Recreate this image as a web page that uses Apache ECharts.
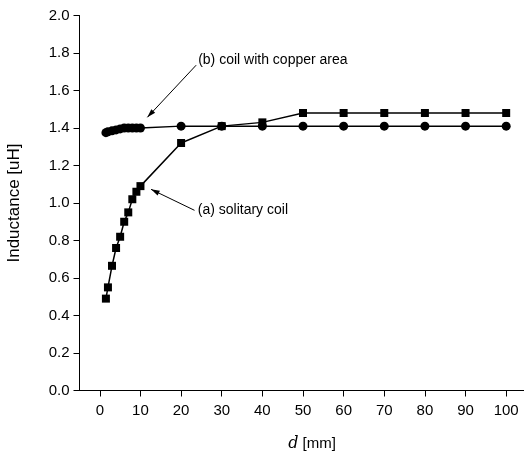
<!DOCTYPE html>
<html>
<head>
<meta charset="utf-8">
<script src="https://cdn.jsdelivr.net/npm/echarts@6/dist/echarts.min.js"></script>
<style>
  html, body { margin: 0; padding: 0; background: #fff; }
  #chart { width: 524px; height: 457px; }
</style>
</head>
<body>
<div id="chart"></div>
<script>
// distance d [mm]
const distances = [1.5, 2, 3, 4, 5, 6, 7, 8, 9, 10, 20, 30, 40, 50, 60, 70, 80, 90, 100]
// (a) solitary coil
const solitaryCoil = [0.49, 0.55, 0.665, 0.76, 0.82, 0.90, 0.95, 1.02, 1.06, 1.09, 1.32, 1.41, 1.43, 1.48, 1.48, 1.48, 1.48, 1.48, 1.48]
// (b) coil with copper area
const copperCoil = [1.375, 1.38, 1.385, 1.39, 1.395, 1.40, 1.40, 1.40, 1.40, 1.40, 1.41, 1.41, 1.41, 1.41, 1.41, 1.41, 1.41, 1.41, 1.41]
const xTicks = [0, 10, 20, 30, 40, 50, 60, 70, 80, 90, 100]

// 注释: 文字, 文字位置, 箭头尾, 箭头头
const notes = [
  { text: '(b) coil with copper area', at: [24.2, 1.76], from: [23.7, 1.735], to: [11.7, 1.457] },
  { text: '(a) solitary coil', at: [24.1, 0.961], from: [23.3, 0.961], to: [12.6, 1.073] }
]

const font = 'Liberation Sans, Arial, sans-serif'
const chart = echarts.init(document.getElementById('chart'))

chart.setOption({
  animation: false,
  grid: { left: 79.5, top: 15.5, width: 447, height: 375, outerBoundsMode: 'none', containLabel: false },
  xAxis: {
    type: 'value',
    min: -5,
    max: 105,
    name: '{i|d} [mm]',
    nameLocation: 'middle',
    nameGap: 45,
    nameTextStyle: {
      color: '#000', fontFamily: font, fontSize: 15, padding: [0, 0, 0, 18],
      rich: { i: { fontStyle: 'italic', fontFamily: 'DejaVu Serif', fontSize: 16, color: '#000' } }
    },
    axisLine: { onZero: false, lineStyle: { color: '#000', width: 1 } },
    axisTick: { show: true, length: 6, customValues: xTicks, lineStyle: { color: '#000' } },
    axisLabel: { customValues: xTicks, color: '#000', fontFamily: font, fontSize: 15, margin: 13 },
    splitLine: { show: false }
  },
  yAxis: {
    type: 'value',
    min: 0,
    max: 2,
    interval: 0.2,
    name: 'Inductance [uH]',
    nameLocation: 'middle',
    nameGap: 57,
    nameTextStyle: { color: '#000', fontFamily: font, fontSize: 17 },
    axisLine: { show: true, onZero: false, lineStyle: { color: '#000', width: 1 } },
    axisTick: { show: true, length: 6, lineStyle: { color: '#000' } },
    axisLabel: {
      color: '#000', fontFamily: font, fontSize: 15, margin: 10,
      formatter: v => v.toFixed(1)
    },
    splitLine: { show: false }
  },
  series: [
    {
      name: '(a) solitary coil',
      type: 'line',
      data: distances.map((d, i) => [d, solitaryCoil[i]]),
      symbol: 'rect',
      symbolSize: 8,
      itemStyle: { color: '#000' },
      lineStyle: { color: '#000', width: 1.5 },
      z: 3
    },
    {
      name: '(b) coil with copper area',
      type: 'line',
      data: distances.map((d, i) => [d, copperCoil[i]]),
      symbol: 'circle',
      symbolSize: 9,
      itemStyle: { color: '#000' },
      lineStyle: { color: '#000', width: 1.5 },
      z: 4
    }
  ]
})

// 箭头与注释文字
const graphics = []
notes.forEach(n => {
  const p = chart.convertToPixel({ gridIndex: 0 }, n.at)
  const a = chart.convertToPixel({ gridIndex: 0 }, n.from)
  const b = chart.convertToPixel({ gridIndex: 0 }, n.to)
  const ang = Math.atan2(b[1] - a[1], b[0] - a[0])
  const len = 9
  const spread = 0.3
  graphics.push({
    type: 'line',
    shape: { x1: a[0], y1: a[1], x2: b[0], y2: b[1] },
    style: { stroke: '#000', lineWidth: 1 }
  })
  graphics.push({
    type: 'polygon',
    shape: {
      points: [
        b,
        [b[0] - len * Math.cos(ang - spread), b[1] - len * Math.sin(ang - spread)],
        [b[0] - len * Math.cos(ang + spread), b[1] - len * Math.sin(ang + spread)]
      ]
    },
    style: { fill: '#000' }
  })
  graphics.push({
    type: 'text',
    x: p[0],
    y: p[1],
    style: { text: n.text, fill: '#000', font: '14px ' + font, textAlign: 'left', textVerticalAlign: 'middle' }
  })
})
chart.setOption({ graphic: graphics })
</script>
</body>
</html>
